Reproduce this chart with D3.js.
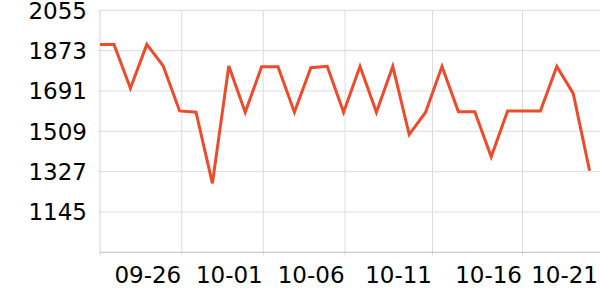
<!DOCTYPE html>
<html>
<head>
<meta charset="utf-8">
<script src="https://cdn.jsdelivr.net/npm/d3@7"></script>
<style>
  html, body { margin: 0; padding: 0; background: #fff; }
  svg { display: block; }
  text { font-family: "DejaVu Sans", sans-serif; }
</style>
</head>
<body>
<svg id="chart" width="600" height="300"></svg>
<script>
// ---- data ----
const values = [1901, 1901, 1703, 1901, 1804, 1601, 1595, 1274, 1804, 1595,
                1800, 1800, 1595, 1796, 1802, 1595, 1802, 1595, 1802, 1494,
                1595, 1802, 1597, 1597, 1394, 1601, 1601, 1601, 1802, 1680, 1331];
const yTicks = [1145, 1327, 1509, 1691, 1873, 2055];
const xTickLabels = ["09-26", "10-01", "10-06", "10-11", "10-16", "10-21"];
const xTickIndex = [5.13, 10.1, 15.09, 20.42, 25.91, 30.57];

// ---- layout ----
const mLeft = 100, mRight = 600, mTop = 10.3, mBottom = 252.3;
const svg = d3.select("#chart");

const x = d3.scaleLinear().domain([0.146, 30.634]).range([mLeft, mRight]);
const y = d3.scaleLinear().domain([963, 2055]).range([mBottom, mTop]);

// horizontal gridlines
svg.append("g").selectAll("line").data(yTicks).join("line")
  .attr("x1", mLeft - 2).attr("x2", mRight)
  .attr("y1", d => y(d)).attr("y2", d => y(d))
  .attr("stroke", "#dcdcdc").attr("stroke-width", 1);

// vertical gridlines (exclude the last label, which sits at the edge)
svg.append("g").selectAll("line").data(xTickIndex.slice(0, 5)).join("line")
  .attr("x1", d => x(d)).attr("x2", d => x(d))
  .attr("y1", mTop).attr("y2", mBottom + 3)
  .attr("stroke", "#dcdcdc").attr("stroke-width", 1);

// left axis line
svg.append("line")
  .attr("x1", mLeft).attr("x2", mLeft).attr("y1", mTop).attr("y2", mBottom + 3)
  .attr("stroke", "#d4d4d4").attr("stroke-width", 1);

// y labels
svg.append("g").selectAll("text").data(yTicks).join("text")
  .attr("x", 87).attr("y", d => y(d))
  .attr("dy", "0.36em")
  .attr("text-anchor", "end")
  .attr("font-size", 23)
  .attr("fill", "#000")
  .text(d => d);

// clipped line
svg.append("clipPath").attr("id", "clip")
  .append("rect").attr("x", mLeft).attr("y", 0).attr("width", mRight - mLeft).attr("height", mBottom);

const line = d3.line().x((d, i) => x(i)).y(d => y(d));
svg.append("path")
  .datum(values)
  .attr("clip-path", "url(#clip)")
  .attr("d", line)
  .attr("fill", "none")
  .attr("stroke", "#ee4a2c")
  .attr("stroke-width", 3)
  .attr("stroke-linejoin", "miter");

// bottom axis line
svg.append("line")
  .attr("x1", mLeft).attr("x2", mRight).attr("y1", mBottom).attr("y2", mBottom)
  .attr("stroke", "#bdbdbd").attr("stroke-width", 1);

// x labels
svg.append("g").selectAll("text").data(xTickLabels).join("text")
  .attr("x", (d, i) => Math.min(x(xTickIndex[i]) - 0.5, 598))
  .attr("y", 283)
  .attr("text-anchor", "end")
  .attr("font-size", 23)
  .attr("fill", "#000")
  .text(d => d);
</script>
</body>
</html>
